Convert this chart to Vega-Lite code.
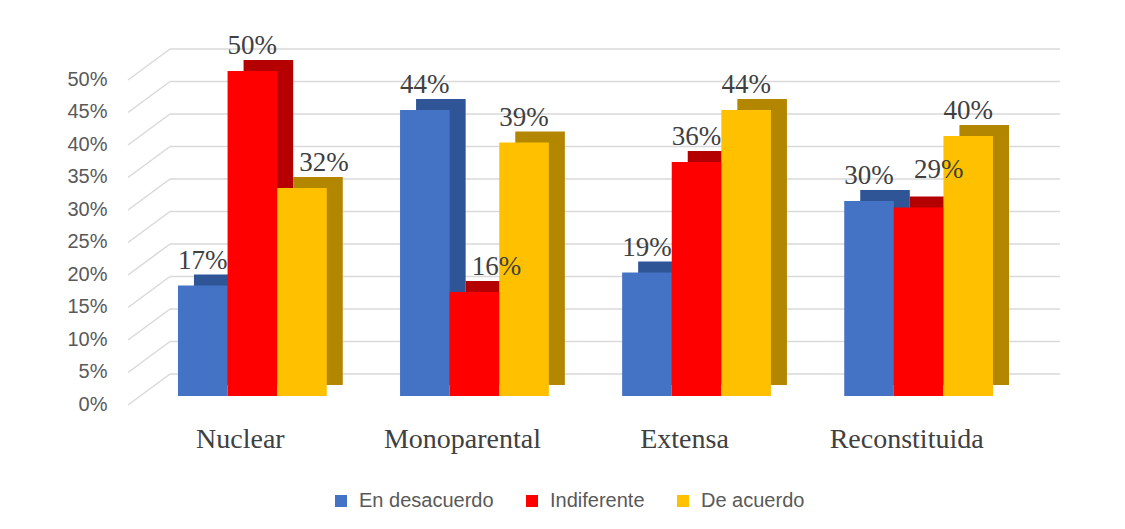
{
  "$schema": "https://vega.github.io/schema/vega-lite/v6.json",
  "width": 915,
  "height": 325,
  "autosize": {"type": "none"},
  "padding": {"left": 128, "top": 71, "right": 82, "bottom": 133},
  "background": "white",
  "config": {"view": {"stroke": null}},
  "datasets": {
    "bars": [
      {"tipo": "Nuclear", "serie": "En desacuerdo", "pct": 0.17},
      {"tipo": "Nuclear", "serie": "Indiferente", "pct": 0.50},
      {"tipo": "Nuclear", "serie": "De acuerdo", "pct": 0.32},
      {"tipo": "Monoparental", "serie": "En desacuerdo", "pct": 0.44},
      {"tipo": "Monoparental", "serie": "Indiferente", "pct": 0.16},
      {"tipo": "Monoparental", "serie": "De acuerdo", "pct": 0.39},
      {"tipo": "Extensa", "serie": "En desacuerdo", "pct": 0.19},
      {"tipo": "Extensa", "serie": "Indiferente", "pct": 0.36},
      {"tipo": "Extensa", "serie": "De acuerdo", "pct": 0.44},
      {"tipo": "Reconstituida", "serie": "En desacuerdo", "pct": 0.30},
      {"tipo": "Reconstituida", "serie": "Indiferente", "pct": 0.29},
      {"tipo": "Reconstituida", "serie": "De acuerdo", "pct": 0.40}
    ],
    "grid": [
      {"pct": 0}, {"pct": 0.05}, {"pct": 0.1}, {"pct": 0.15}, {"pct": 0.2}, {"pct": 0.25},
      {"pct": 0.3}, {"pct": 0.35}, {"pct": 0.4}, {"pct": 0.45}, {"pct": 0.5}
    ]
  },
  "encoding": {
    "y": {"field": "pct", "type": "quantitative", "scale": {"domain": [0, 0.5], "nice": false},
      "axis": {"title": null, "domain": false, "ticks": false, "grid": false, "format": ".0%", "values": [0, 0.05, 0.1, 0.15, 0.2, 0.25, 0.3, 0.35, 0.4, 0.45, 0.5], "labelOverlap": false, "labelFont": "Liberation Sans", "labelFontSize": 20, "labelColor": "#595959", "labelPadding": 21, "labelOffset": 8}}
  },
  "layer": [
    {
      "data": {"name": "grid"},
      "mark": {"type": "rule", "color": "#d9d9d9", "strokeWidth": 1.5, "yOffset": -22},
      "encoding": {
        "x": {"datum": 0, "type": "quantitative", "scale": {"domain": [0, 1], "range": [42, 932]}, "axis": null},
        "x2": {"datum": 1}
      }
    },
    {
      "data": {"name": "grid"},
      "mark": {"type": "rule", "color": "#d9d9d9", "strokeWidth": 1.5, "yOffset": 9, "y2Offset": -22},
      "encoding": {
        "x": {"datum": 0, "type": "quantitative", "scale": {"domain": [0, 1], "range": [0, 42]}, "axis": null},
        "x2": {"datum": 1},
        "y2": {"field": "pct"}
      }
    },
    {
      "data": {"name": "bars"},
      "mark": {"type": "bar", "y2Offset": -11},
      "encoding": {
        "x": {"field": "tipo", "type": "nominal", "sort": ["Nuclear", "Monoparental", "Extensa", "Reconstituida"], "scale": {"type": "band", "paddingInner": 0.33, "paddingOuter": 0.225, "range": [16, 931]}, "axis": null},
        "xOffset": {"field": "serie", "type": "nominal", "sort": ["En desacuerdo", "Indiferente", "De acuerdo"], "scale": {"type": "band", "paddingInner": 0, "paddingOuter": 0}},
        "y2": {"datum": 0},
        "yOffset": {"value": -11},
        "color": {"field": "serie", "type": "nominal", "scale": {"domain": ["En desacuerdo", "Indiferente", "De acuerdo"], "range": ["#2F5597", "#B40000", "#B38600"]}, "legend": null}
      }
    },
    {
      "data": {"name": "bars"},
      "encoding": {
        "x": {"field": "tipo", "type": "nominal", "sort": ["Nuclear", "Monoparental", "Extensa", "Reconstituida"], "scale": {"type": "band", "paddingInner": 0.33, "paddingOuter": 0.225},
          "axis": {"title": null, "domain": false, "ticks": false, "labelAngle": 0, "labelFont": "Liberation Serif", "labelFontSize": 28, "labelColor": "#404040", "labelPadding": 29, "labelOffset": -12}},
        "xOffset": {"field": "serie", "type": "nominal", "sort": ["En desacuerdo", "Indiferente", "De acuerdo"], "scale": {"type": "band", "paddingInner": 0, "paddingOuter": 0}}
      },
      "layer": [
        {
          "mark": {"type": "bar"},
          "encoding": {
            "color": {"field": "serie", "type": "nominal", "scale": {"domain": ["En desacuerdo", "Indiferente", "De acuerdo"], "range": ["#4472C4", "#FF0000", "#FFC000"]},
              "legend": {"title": null, "orient": "none", "legendX": 203, "legendY": 420, "direction": "horizontal", "symbolType": "square", "symbolSize": 144, "symbolStrokeWidth": 0, "labelFont": "Liberation Sans", "labelFontSize": 20, "labelColor": "#595959", "labelOffset": 8, "columnPadding": 28}}
          }
        },
        {
          "transform": [{"filter": "!((datum.tipo === 'Nuclear' && datum.serie === 'De acuerdo') || (datum.tipo === 'Monoparental' && datum.serie === 'Indiferente') || (datum.tipo === 'Reconstituida' && datum.serie === 'Indiferente'))"}],
          "mark": {"type": "text", "font": "Liberation Serif", "fontSize": 27, "color": "#404040", "baseline": "alphabetic", "dy": -17},
          "encoding": {"text": {"field": "pct", "type": "quantitative", "format": ".0%"}}
        },
        {
          "transform": [{"filter": "(datum.tipo === 'Nuclear' && datum.serie === 'De acuerdo') || (datum.tipo === 'Monoparental' && datum.serie === 'Indiferente')"}],
          "mark": {"type": "text", "font": "Liberation Serif", "fontSize": 27, "color": "#404040", "baseline": "alphabetic", "dy": -17, "dx": 22},
          "encoding": {"text": {"field": "pct", "type": "quantitative", "format": ".0%"}}
        },
        {
          "transform": [{"filter": "datum.tipo === 'Reconstituida' && datum.serie === 'Indiferente'"}],
          "mark": {"type": "text", "font": "Liberation Serif", "fontSize": 27, "color": "#404040", "baseline": "alphabetic", "dy": -30, "dx": 20},
          "encoding": {"text": {"field": "pct", "type": "quantitative", "format": ".0%"}}
        }
      ]
    }
  ],
  "resolve": {"scale": {"color": "independent", "x": "independent", "xOffset": "independent"}}
}
